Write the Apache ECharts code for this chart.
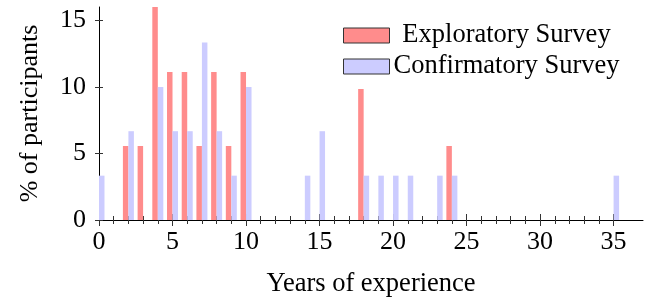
<html>
<head>
<meta charset="utf-8">
<title>Years of experience</title>
<script src="https://cdn.jsdelivr.net/npm/echarts@6/dist/echarts.min.js"></script>
</head>
<body style="margin:0">
	<div id="main" style="width: 651px; height: 299px;"></div>
	<script type="text/javascript">
		// data (% of participants per year of experience)
		var expYears = [2, 3, 4, 5, 6, 7, 8, 9, 10, 18, 24];
		var expValues = [5.56, 5.56, 16.67, 11.11, 11.11, 5.56, 11.11, 5.56, 11.11, 11.11, 5.56];
		var confYears = [0, 2, 4, 5, 6, 7, 8, 9, 10, 14, 15, 18, 19, 20, 21, 23, 24, 35];
		var confValues = [3.33, 6.67, 10, 6.67, 6.67, 13.33, 6.67, 3.33, 10, 3.33, 6.67, 3.33, 3.33, 3.33, 3.33, 3.33, 3.33, 3.33];
		var xMajorTicks = [0, 5, 10, 15, 20, 25, 30, 35];
		var xMinorTicks = [];
		for (var t = 0; t <= 35; t++) xMinorTicks.push(t);
		var yTicks = [0, 5, 10, 15];

		var font = 'Liberation Serif';

		function pairs(xs, ys) {
			var out = [];
			for (var i = 0; i < xs.length; i++) out.push([xs[i], ys[i]]);
			return out;
		}

		// one axis per tick style, so ticks can cross the axis line
		function xAxisFor(ticks, len, inside, showMain) {
			return {
				type : 'value', min : 0, max : 37, position : 'bottom',
				axisLine : { show : showMain, onZero : false, lineStyle : { color : '#000', width : 1 } },
				axisTick : { show : true, inside : inside, length : len, customValues : ticks,
					lineStyle : { color : '#333', width : 1 } },
				axisLabel : { show : showMain, customValues : xMajorTicks, margin : 9,
					fontFamily : font, fontSize : 26, color : '#000' },
				splitLine : { show : false },
				name : showMain ? 'Years of experience' : '',
				nameLocation : 'middle', nameGap : 51,
				nameTextStyle : { fontFamily : font, fontSize : 26.5, color : '#000' }
			};
		}
		function yAxisFor(inside, showMain) {
			return {
				type : 'value', min : 0, max : 16, position : 'left',
				axisLine : { show : showMain, onZero : false, lineStyle : { color : '#000', width : 1 } },
				axisTick : { show : true, inside : inside, length : 4, customValues : yTicks,
					lineStyle : { color : '#333', width : 1 } },
				axisLabel : { show : showMain, customValues : yTicks, margin : 13,
					fontFamily : font, fontSize : 26, color : '#000' },
				splitLine : { show : false },
				name : showMain ? '% of participants' : '',
				nameLocation : 'middle', nameGap : 56,
				nameTextStyle : { fontFamily : font, fontSize : 26, color : '#000' }
			};
		}

		var myChart = echarts.init(document.getElementById('main'));
		myChart.setOption({
			animation : false,
			grid : { left : 99, right : 8, top : 7, bottom : 79, outerBoundsMode : 'none', containLabel : false },
			legend : {
				orient : 'vertical',
				left : 335, top : 12,
				padding : [10, 8, 9, 8],
				backgroundColor : '#fff',
				itemWidth : 46, itemHeight : 15, itemGap : 4,
				icon : 'rect',
				itemStyle : { borderColor : '#333', borderWidth : 1 },
				formatter : function(name) { return '{t|' + name + '}'; },
				textStyle : {
					rich : { t : { width : 224, align : 'center', fontFamily : font,
						fontSize : 26.5, lineHeight : 27, color : '#000' } }
				},
				data : ['Exploratory Survey', 'Confirmatory Survey']
			},
			xAxis : [
				xAxisFor(xMinorTicks, 4, false, true),
				xAxisFor(xMinorTicks, 4, true, false),
				xAxisFor(xMajorTicks, 6, false, false),
				xAxisFor(xMajorTicks, 6, true, false)
			],
			yAxis : [ yAxisFor(false, true), yAxisFor(true, false) ],
			series : [ {
				name : 'Exploratory Survey', type : 'bar',
				barWidth : 5.5, barGap : '0%',
				itemStyle : { color : '#ff8c8c' },
				emphasis : { disabled : true },
				data : pairs(expYears, expValues)
			}, {
				name : 'Confirmatory Survey', type : 'bar',
				barWidth : 5.5, barGap : '0%',
				itemStyle : { color : '#ccccff' },
				emphasis : { disabled : true },
				data : pairs(confYears, confValues)
			} ]
		});
	</script>
</body>
</html>
